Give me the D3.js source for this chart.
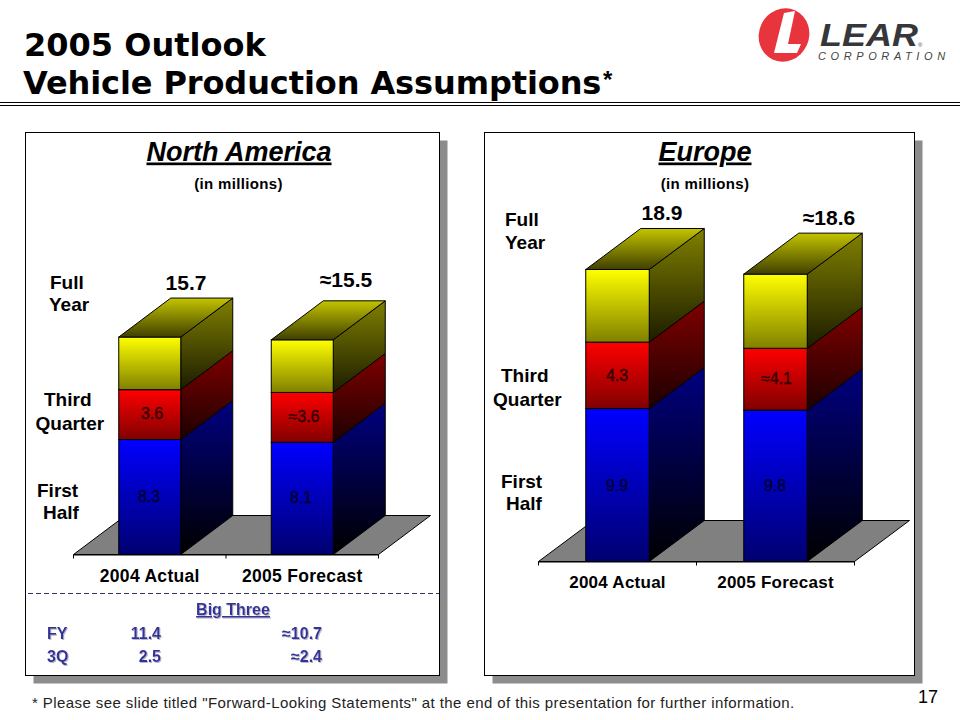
<!DOCTYPE html>
<html><head><meta charset="utf-8">
<script src="https://d3js.org/d3.v7.min.js"></script>
<style>html,body{margin:0;padding:0;background:#fff}svg{display:block}
text{font-family:"Liberation Sans",Arial,sans-serif}</style></head>
<body><svg id="c" width="960" height="720"></svg>
<script>
const categories = ["2004 Actual","2005 Forecast"];
const segments = ["First Half","Third Quarter","Fourth Quarter"];
const naFirstHalf = [8.3,8.1];
const naThirdQuarter = [3.6,3.6];
const naFourthQuarter = [3.8,3.8];
const naThirdLabels = ["3.6","≈3.6"];
const naFirstLabels = ["8.3","8.1"];
const naTotals = ["15.7","≈15.5"];
const euFirstHalf = [9.9,9.8];
const euThirdQuarter = [4.3,4.0];
const euFourthQuarter = [4.7,4.8];
const euThirdLabels = ["4.3","≈4.1"];
const euFirstLabels = ["9.9","9.8"];
const euTotals = ["18.9","≈18.6"];
const bigThreeRows = ["FY","3Q"];
const bigThreeActual = ["11.4","2.5"];
const bigThreeForecast = ["≈10.7","≈2.4"];

const svg = d3.select("#c");
const defs = svg.append("defs");
function grad(id,a,b){
  const g=defs.append("linearGradient").attr("id",id).attr("x1",0).attr("y1",0).attr("x2",0).attr("y2",1);
  g.append("stop").attr("offset",0).attr("stop-color",a);
  g.append("stop").attr("offset",1).attr("stop-color",b);
}
const ramps=[
 {f:["#0000ff","#000070"],s:["#000080","#000000"]},
 {f:["#ff0000","#800000"],s:["#800000","#1c0000"]},
 {f:["#ffff00","#808000"],s:["#808000","#1c1c00"]}];
ramps.forEach((r,i)=>{grad("f"+i,r.f[0],r.f[1]);grad("s"+i,r.s[0],r.s[1]);});
grad("top","#c4c400","#404000");

function T(x,y,s,o={}){
  const t=svg.append("text").attr("x",x).attr("y",y).text(s)
   .attr("font-size",o.size||16).attr("font-weight",o.weight||"bold")
   .attr("text-anchor",o.anchor||"start").attr("fill",o.fill||"#000");
  if(o.italic)t.attr("font-style","italic");
  if(o.underline)t.attr("text-decoration","underline");
  if(o.family)t.style("font-family",o.family);
  if(o.ls!=null)t.attr("letter-spacing",o.ls);
  if(o.filter)t.attr("filter",o.filter);
  if(o.stroke)t.attr("stroke",o.stroke).attr("stroke-width",o.sw||0.35);
  if(o.len)t.attr("textLength",o.len).attr("lengthAdjust","spacingAndGlyphs");
  return t;
}
const sh=defs.append("filter").attr("id","tsh").attr("x","-10%").attr("y","-10%").attr("width","130%").attr("height","130%");
sh.append("feDropShadow").attr("dx",1).attr("dy",1).attr("stdDeviation",0).attr("flood-color","#b8b8c8");

/* header */
T(24,56,"2005 Outlook",{size:32,family:'"DejaVu Sans"'});
T(23,94,"Vehicle Production Assumptions",{size:32,family:'"DejaVu Sans"',ls:-0.1});
T(603,88,"*",{size:24,weight:"bold",family:'"Liberation Sans"'});
[102.5,105.5].forEach(y=>svg.append("line").attr("x1",0).attr("x2",960).attr("y1",y).attr("y2",y).attr("stroke","#000").attr("stroke-width",1));

/* logo */
const logo=svg.append("g");
logo.append("ellipse").attr("cx",784).attr("cy",35).attr("rx",25).attr("ry",27).attr("transform","rotate(25 784 35)").attr("fill","#e8343c");
logo.append("path").attr("d","M784,13 L795,11 L788,44 L801,44 L797,53 L774,53 Z").attr("fill","#fff");
T(820,46,"LEAR",{size:31,italic:true,fill:"#37373b",weight:"bold",len:98});
T(918,47,"®",{size:6,fill:"#444",weight:"normal"});
T(818,60,"CORPORATION",{size:11,italic:true,weight:"normal",fill:"#444",ls:4.6});

/* panel */
function panel(x0,y0,x1,y1){
  svg.append("rect").attr("x",x0+8).attr("y",y0+8).attr("width",x1-x0).attr("height",y1-y0).attr("fill","#8c8c8c");
  svg.append("rect").attr("x",x0).attr("y",y0).attr("width",x1-x0).attr("height",y1-y0).attr("fill","#fff").attr("stroke","#000").attr("stroke-width",1);
}
panel(25.5,132.5,439.5,675.5);
panel(484.5,132.5,914.5,675.5);

function chart(c){
  const x=d3.scaleBand().domain(categories).range([c.x0,c.x1]).padding(0);
  const y=d3.scaleLinear().domain([0,1]).range([c.base,c.base-c.unit]);
  const pt=p=>p.map(q=>q.join(",")).join(" ");
  svg.append("polygon").attr("points",pt([[c.x0,c.base],[c.x1,c.base],[c.x1+c.dx,c.base-c.dy],[c.x0+c.dx,c.base-c.dy]]))
    .attr("fill","#808080").attr("stroke","#000").attr("stroke-width",1);
  const ax=svg.append("g").attr("transform",`translate(0,${c.base})`).call(d3.axisBottom(x).tickSize(0).tickPadding(c.labelPad));
  ax.select(".domain").attr("stroke","#000");
  ax.selectAll("text").attr("font-size",c.catSize).attr("font-weight","bold").attr("fill","#000").style("font-family",'"Liberation Sans"').attr("letter-spacing",c.catLs);
  d3.range(categories.length+1).forEach(i=>{
    const tx=c.x0+i*x.step();
    ax.append("line").attr("x1",tx).attr("x2",tx).attr("y1",0).attr("y2",4).attr("stroke","#000");
  });
  categories.forEach((cat,i)=>{
    const cx=x(cat)+x.bandwidth()/2, l=cx-c.bw/2, r=cx+c.bw/2;
    let acc=0;
    c.series.forEach((s,k)=>{
      const b=y(acc), t=y(acc+s[i]); acc+=s[i];
      svg.append("polygon").attr("points",pt([[r,b],[r+c.dx,b-c.dy],[r+c.dx,t-c.dy],[r,t]]))
        .attr("fill",`url(#s${k})`).attr("stroke","#000").attr("stroke-width",1);
      svg.append("rect").attr("x",l).attr("y",t).attr("width",c.bw).attr("height",b-t)
        .attr("fill",`url(#f${k})`).attr("stroke","#000").attr("stroke-width",1);
    });
    const t=y(acc);
    svg.append("polygon").attr("points",pt([[l,t],[r,t],[r+c.dx,t-c.dy],[l+c.dx,t-c.dy]]))
      .attr("fill","url(#top)").attr("stroke","#000").attr("stroke-width",1);
  });
}
chart({x0:73.5,x1:378.5,base:554.5,dx:52,dy:39,unit:13.85,bw:62,labelPad:15,catSize:17.5,catLs:0.3,
  series:[naFirstHalf,naThirdQuarter,naFourthQuarter]});
chart({x0:538.5,x1:854.5,base:561.5,dx:55,dy:41,unit:15.45,bw:63.5,labelPad:14,catSize:17,catLs:0.25,
  series:[euFirstHalf,euThirdQuarter,euFourthQuarter]});

/* panel headings */
T(239,160.5,"North America",{size:27,italic:true,underline:true,anchor:"middle"});
T(705,160.5,"Europe",{size:27,italic:true,underline:true,anchor:"middle"});
T(238.5,189,"(in millions)",{size:15,anchor:"middle",ls:0.35});
T(705,189,"(in millions)",{size:15,anchor:"middle",ls:0.35});

/* NA labels */
const big={size:21,weight:"bold"};
T(186,290,naTotals[0],{...big,anchor:"middle"});
T(346,287,naTotals[1],{...big,anchor:"middle"});
const side={size:19};
T(50,289,"Full",side);T(49,311,"Year",side);
T(44,406,"Third",side);T(35.5,430,"Quarter",side);
T(37,497,"First",side);T(43,519,"Half",side);
const valR={size:16,weight:"normal",anchor:"middle",fill:"#300000",stroke:"#300000"};
const valB={size:16,weight:"normal",anchor:"middle",fill:"#000030",stroke:"#000030"};
T(152,419,naThirdLabels[0],valR);T(304,422,naThirdLabels[1],valR);
T(149,502,naFirstLabels[0],valB);T(301,503,naFirstLabels[1],valB);

/* Big Three */
svg.append("line").attr("x1",28).attr("x2",439).attr("y1",593.5).attr("y2",593.5).attr("stroke","#333366").attr("stroke-dasharray","5,3");
const bt={size:16,fill:"#333399",filter:"url(#tsh)"};
T(233,615,"Big Three",{...bt,anchor:"middle",underline:true});
bigThreeRows.forEach((r,i)=>{
  const yy=[639,662][i];
  T(47,yy,r,bt);
  T(161,yy,bigThreeActual[i],{...bt,anchor:"end"});
  T(322,yy,bigThreeForecast[i],{...bt,anchor:"end"});
});

/* Europe labels */
T(662,220,euTotals[0],{...big,anchor:"middle"});
T(829,225,euTotals[1],{...big,anchor:"middle"});
T(505,226,"Full",side);T(505,249,"Year",side);
T(501,382,"Third",side);T(493,406,"Quarter",side);
T(501,488,"First",side);T(506,510,"Half",side);
T(617,381,euThirdLabels[0],valR);T(776.5,384,euThirdLabels[1],valR);
T(617,491,euFirstLabels[0],valB);T(775,491,euFirstLabels[1],valB);

/* footer */
T(32,708,"* Please see slide titled \"Forward-Looking Statements\" at the end of this presentation for further information.",{size:15,weight:"normal",fill:"#222",ls:0.42});
T(918,703,"17",{size:18,weight:"normal"});
</script></body></html>
